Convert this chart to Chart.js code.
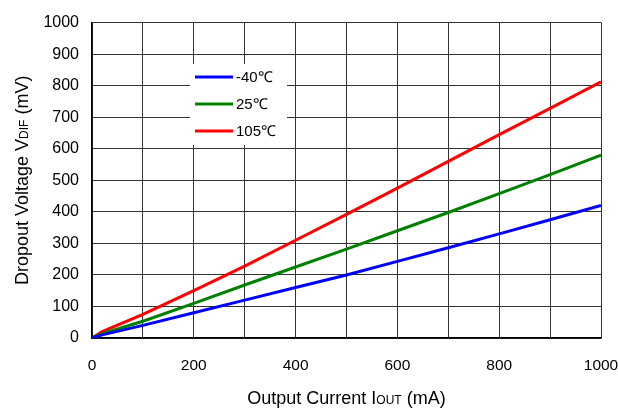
<!DOCTYPE html>
<html>
<head>
<meta charset="utf-8">
<script src="https://cdn.jsdelivr.net/npm/chart.js@4.4.0/dist/chart.umd.min.js"></script>
<style>
    html, body { margin: 0; padding: 0; background: #fff; }
    #wrap { width: 618px; height: 408px; }
</style>
</head>
<body>
<div id="wrap"><canvas id="dropout" width="618" height="408"></canvas></div>
<script>
'use strict';
// output current (mA)
const currentMA = [0, 20, 100, 200, 300, 400, 500, 600, 700, 800, 900, 1000];
// dropout voltage (mV) per temperature
const vdifMinus40 = [0, 10, 40, 80, 120, 160, 200, 243, 286, 330, 375, 420];
const vdif25 = [0, 14, 53, 110, 168, 225, 282, 340, 398, 458, 518, 580];
const vdif105 = [0, 20, 75, 150, 228, 310, 392, 475, 560, 645, 728, 812];
const seriesLabels = ['-40\u2103', '25\u2103', '105\u2103'];
const seriesColors = ['#0000ff', '#008000', '#ff0000'];
const xTickLabels = [0, 200, 400, 600, 800, 1000];

const FONT = "Arial, 'Liberation Sans', sans-serif";

function toPoints(ys) {
    return currentMA.map(function(x, i) { return { x: x, y: ys[i] }; });
}

// draws legend box and axis titles (with subscripts) on the canvas
const decorations = {
    id: 'decorations',
    afterDraw: function(chart) {
        const ctx = chart.ctx;
        const area = chart.chartArea;
        ctx.save();

        // legend inside the plot
        ctx.fillStyle = '#fff';
        ctx.fillRect(190, 64, 97, 81);
        const rows = [77, 104, 131];
        chart.data.datasets.forEach(function(ds, i) {
            ctx.strokeStyle = ds.borderColor;
            ctx.lineWidth = 3;
            ctx.beginPath();
            ctx.moveTo(195, rows[i]);
            ctx.lineTo(233, rows[i]);
            ctx.stroke();
            ctx.fillStyle = '#000';
            ctx.font = '15px ' + FONT;
            ctx.textBaseline = 'middle';
            ctx.textAlign = 'left';
            ctx.fillText(ds.label, 236, rows[i] + 1);
        });

        // x title
        drawSubTitle(ctx, ['Output Current I', 'OUT', ' (mA)'], (area.left + area.right) / 2, 397);

        // y title, rotated
        ctx.translate(21, (area.top + area.bottom) / 2);
        ctx.rotate(-Math.PI / 2);
        drawSubTitle(ctx, ['Dropout Voltage V', 'DIF', ' (mV)'], 0, 0);
        ctx.restore();
    }
};

function drawSubTitle(ctx, parts, cx, cy) {
    const big = '18px ' + FONT;
    const small = '12px ' + FONT;
    ctx.textBaseline = 'alphabetic';
    ctx.textAlign = 'left';
    ctx.fillStyle = '#000';
    ctx.font = big;
    const w0 = ctx.measureText(parts[0]).width;
    const w2 = ctx.measureText(parts[2]).width;
    ctx.font = small;
    const w1 = ctx.measureText(parts[1]).width;
    let x = cx - (w0 + w1 + w2) / 2;
    const base = cy + 6.5;
    ctx.font = big;
    ctx.fillText(parts[0], x, base);
    x += w0;
    ctx.font = small;
    ctx.fillText(parts[1], x, base);
    x += w1;
    ctx.font = big;
    ctx.fillText(parts[2], x, base);
}

const gridColor = '#333';

new Chart(document.getElementById('dropout'), {
    type: 'line',
    data: {
        datasets: [
            { label: seriesLabels[0], data: toPoints(vdifMinus40), borderColor: seriesColors[0] },
            { label: seriesLabels[1], data: toPoints(vdif25), borderColor: seriesColors[1] },
            { label: seriesLabels[2], data: toPoints(vdif105), borderColor: seriesColors[2] }
        ].map(function(ds) {
            ds.borderWidth = 3;
            ds.pointRadius = 0;
            ds.tension = 0;
            ds.fill = false;
            return ds;
        })
    },
    options: {
        responsive: false,
        animation: false,
        devicePixelRatio: 1,
        layout: { padding: { top: 21, right: 17, left: 0, bottom: 0 } },
        plugins: {
            legend: { display: false },
            tooltip: { enabled: false }
        },
        scales: {
            x: {
                type: 'linear',
                min: 0,
                max: 1000,
                afterFit: function(s) {
                    s.height = 70;
                    s.paddingLeft = 0;
                    s.paddingRight = 0;
                },
                afterBuildTicks: function(s) {
                    const t = [];
                    for (let v = 0; v <= 1000; v += 100) t.push({ value: v });
                    s.ticks = t;
                },
                grid: { color: gridColor, lineWidth: 1, drawTicks: false },
                border: { color: '#000', width: 1.5 },
                ticks: {
                    padding: 18,
                    color: '#000',
                    font: { family: FONT, size: 15.5 },
                    autoSkip: false,
                    maxRotation: 0,
                    callback: function(v) { return xTickLabels.indexOf(v) >= 0 ? String(v) : ''; }
                }
            },
            y: {
                min: 0,
                max: 1000,
                afterFit: function(s) { s.width = 92; },
                grid: { color: gridColor, lineWidth: 1, drawTicks: false },
                border: { color: '#000', width: 1.5 },
                ticks: {
                    stepSize: 100,
                    padding: 13,
                    color: '#000',
                    font: { family: FONT, size: 16 },
                    callback: function(v) { return String(v); }
                }
            }
        }
    },
    plugins: [decorations]
});
</script>
</body>
</html>
